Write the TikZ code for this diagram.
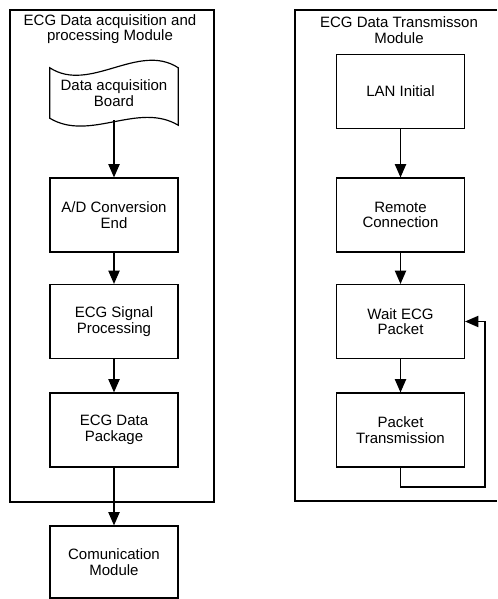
\documentclass[tikz,border=0pt]{standalone}
\usepackage{fontspec}
\setmainfont{Liberation Sans}
\usetikzlibrary{arrows.meta}

\begin{document}
\begin{tikzpicture}[x=0.03cm,y=-0.03cm,
        font=\fontsize{12.8}{13.4}\selectfont,
        blk/.style={draw,line width=1pt,minimum width=3.84cm,minimum height=2.22cm,align=center,inner sep=0pt},
        arr/.style={line width=1pt,-{Triangle[length=0.4cm,width=0.34cm]}},
        frm/.style={line width=1.1pt}]
        \useasboundingbox (0,0) rectangle (497,599);

        % module frames
        \draw[frm] (10,10) rectangle (214,502);
        \draw[frm] (497,10) -| (295,501) -- (497,501);
        \node[align=center] (ltitle) at (110,29) {ECG Data acquisition and\\processing Module};
        \node[align=center] (rtitle) at (399,30) {ECG Data Transmisson\\Module};

        % left column
        \node[minimum width=3.84cm,minimum height=1.5cm,align=center,inner sep=0pt] (board) at (114,93) {Data acquisition\\Board};
        \draw[line width=1pt] (board.north west)
            .. controls +(40,26) and +(-40,-26) .. (board.north east)
            -- ([yshift=-0.21cm]board.south east)
            .. controls +(-40,-24) and +(40,24) .. (board.south west) -- cycle;
        \node[blk] (adc)  at (114,215)   {A/D Conversion\\End};
        \node[blk] (sig)  at (114,321.5) {ECG Signal\\Processing};
        \node[blk] (pack) at (114,430)   {ECG Data\\Package};
        \node[blk,minimum height=2.16cm] (comm) at (114,562) {Comunication\\Module};

        \draw[arr] ([yshift=-0.06cm]board.south) -- (adc.north);
        \draw[arr] (adc) -- (sig);
        \draw[arr] (sig) -- (pack);
        \draw[arr] (pack) -- (comm);

        % right column
        \node[blk] (lan)    at (400.5,91.5)  {LAN Initial};
        \node[blk] (remote) at (400.5,215)   {Remote\\Connection};
        \node[blk] (wait)   at (400.5,321.5) {Wait ECG\\Packet};
        \node[blk] (trans)  at (400.5,430)   {Packet\\Transmission};

        \draw[arr] (lan) -- (remote);
        \draw[arr] (remote) -- (wait);
        \draw[arr] (wait) -- (trans);
        \coordinate (loop) at (485,487);
        \draw[arr] (trans.south) |- (loop) |- (wait.east);
    \end{tikzpicture}
\end{document}
